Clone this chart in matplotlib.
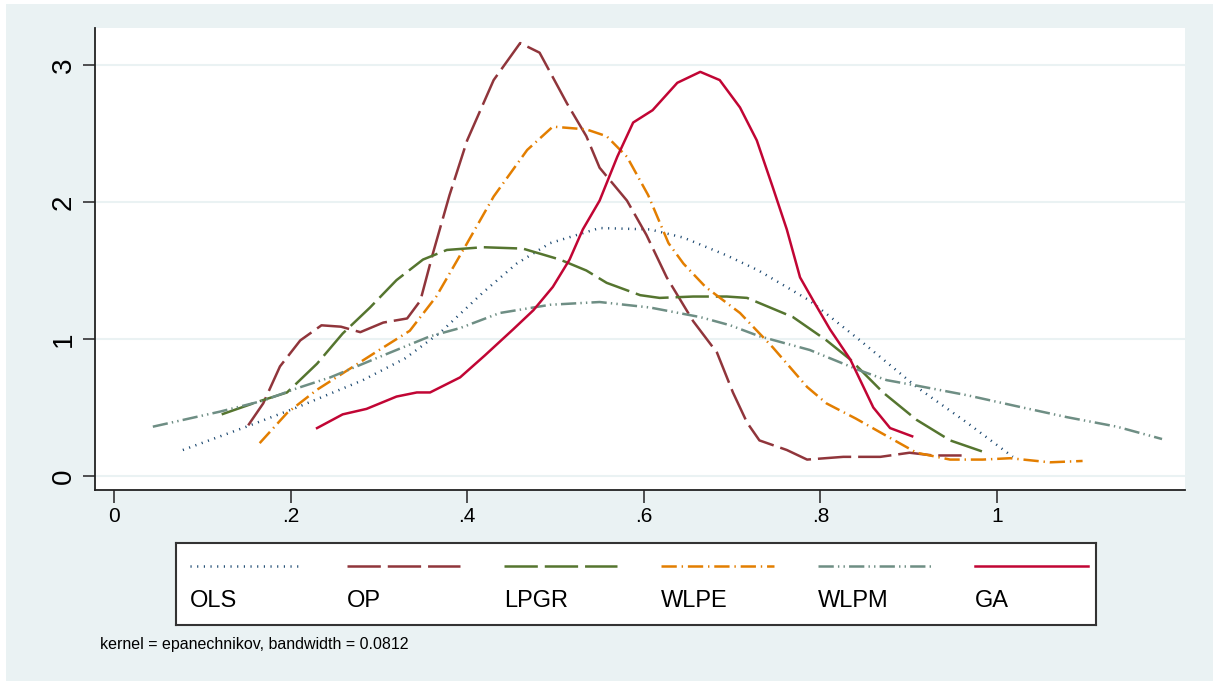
import matplotlib.pyplot as plt
from matplotlib.lines import Line2D
from matplotlib.patches import Rectangle

plt.rcParams['font.family'] = ['Liberation Sans', 'DejaVu Sans']
plt.rcParams['lines.scale_dashes'] = False

# --------------- data -----------------------------------------
ols_x = [0.078, 0.15, 0.207, 0.282, 0.33, 0.37, 0.418, 0.456, 0.494, 0.55, 0.607,
         0.645, 0.694, 0.73, 0.788, 0.845, 0.909, 0.966, 1.018]
ols_y = [0.19, 0.36, 0.50, 0.70, 0.86, 1.05, 1.34, 1.55, 1.70, 1.81, 1.80,
         1.74, 1.61, 1.50, 1.28, 0.99, 0.65, 0.39, 0.14]

op_x = [0.152, 0.169, 0.188, 0.211, 0.235, 0.257, 0.279, 0.305, 0.332, 0.347, 0.361,
        0.38, 0.40, 0.43, 0.46, 0.482, 0.513, 0.535, 0.55, 0.581, 0.603, 0.626,
        0.656, 0.683, 0.701, 0.717, 0.731, 0.762, 0.785, 0.826, 0.868, 0.901,
        0.928, 0.96]
op_y = [0.37, 0.53, 0.80, 0.99, 1.10, 1.09, 1.05, 1.12, 1.15, 1.28, 1.62,
        2.05, 2.45, 2.89, 3.16, 3.09, 2.72, 2.48, 2.25, 2.01, 1.76, 1.45,
        1.13, 0.90, 0.61, 0.39, 0.26, 0.19, 0.12, 0.14, 0.14, 0.17,
        0.15, 0.15]

lpgr_x = [0.122, 0.162, 0.196, 0.23, 0.259, 0.29, 0.32, 0.35, 0.377, 0.418, 0.463,
          0.505, 0.535, 0.558, 0.596, 0.618, 0.656, 0.694, 0.717, 0.769, 0.807,
          0.834, 0.871, 0.909, 0.947, 0.983]
lpgr_y = [0.45, 0.54, 0.61, 0.82, 1.04, 1.23, 1.43, 1.58, 1.65, 1.67, 1.66,
          1.58, 1.50, 1.41, 1.32, 1.30, 1.31, 1.31, 1.30, 1.16, 0.99,
          0.85, 0.61, 0.41, 0.26, 0.18]

wlpe_x = [0.165, 0.196, 0.23, 0.264, 0.298, 0.335, 0.365, 0.40, 0.43, 0.468, 0.497,
          0.535, 0.558, 0.581, 0.605, 0.628, 0.645, 0.67, 0.709, 0.746, 0.785,
          0.807, 0.84, 0.873, 0.909, 0.947, 0.984, 1.015, 1.06, 1.097]
wlpe_y = [0.24, 0.46, 0.63, 0.77, 0.91, 1.06, 1.31, 1.70, 2.04, 2.38, 2.55,
          2.53, 2.48, 2.33, 2.05, 1.70, 1.55, 1.38, 1.19, 0.94, 0.65,
          0.53, 0.42, 0.30, 0.17, 0.12, 0.12, 0.13, 0.10, 0.11]

wlpm_x = [0.044, 0.12, 0.169, 0.207, 0.245, 0.301, 0.358, 0.392, 0.437, 0.494, 0.55,
          0.607, 0.664, 0.698, 0.731, 0.788, 0.845, 0.875, 0.909, 0.966, 1.022,
          1.079, 1.136, 1.187]
wlpm_y = [0.36, 0.47, 0.55, 0.64, 0.72, 0.87, 1.02, 1.08, 1.19, 1.25, 1.27,
          1.23, 1.16, 1.10, 1.02, 0.92, 0.77, 0.70, 0.66, 0.59, 0.51,
          0.43, 0.36, 0.27]

ga_x = [0.23, 0.259, 0.286, 0.32, 0.343, 0.358, 0.392, 0.42, 0.452, 0.475, 0.497,
        0.516, 0.531, 0.55, 0.57, 0.588, 0.61, 0.638, 0.664, 0.686, 0.709,
        0.728, 0.746, 0.762, 0.777, 0.792, 0.811, 0.834, 0.86, 0.879, 0.904]
ga_y = [0.35, 0.45, 0.49, 0.58, 0.61, 0.61, 0.72, 0.88, 1.07, 1.21, 1.38,
        1.58, 1.80, 2.01, 2.33, 2.58, 2.67, 2.87, 2.95, 2.89, 2.69,
        2.45, 2.11, 1.80, 1.45, 1.28, 1.07, 0.85, 0.50, 0.35, 0.29]

names = ['OLS', 'OP', 'LPGR', 'WLPE', 'WLPM', 'GA']
xs = [ols_x, op_x, lpgr_x, wlpe_x, wlpm_x, ga_x]
ys = [ols_y, op_y, lpgr_y, wlpe_y, wlpm_y, ga_y]

colors = ['#1a476f', '#90353b', '#55752f', '#e37e00', '#6e8e84', '#c10534']
dashes = [(0.8, 4.0), (24, 5), (24, 5), (11, 3.5, 1, 3.5),
          (11, 3, 1, 3, 1, 3), None]

bg = '#eaf2f3'

fig = plt.figure(figsize=(12.13, 6.81), dpi=100)
fig.patch.set_facecolor('white')
# light frame background (small white strip top/left as in the export)
fig.add_artist(Rectangle((6 / 1213, 0), 1, 1 - 4 / 681, transform=fig.transFigure,
                         facecolor=bg, edgecolor='none', zorder=-10))

ax = fig.add_axes([95 / 1213, 1 - 490 / 681, 1090 / 1213, 462 / 681])
ax.set_facecolor('white')

for x, y, c, d, n in zip(xs, ys, colors, dashes, names):
    ln, = ax.plot(x, y, color=c, lw=1.8, label=n)
    if d is not None:
        ln.set_dashes(d)

ax.set_xlim(-0.0215, 1.213)
ax.set_ylim(-0.102, 3.27)
ax.set_xticks([0, 0.2, 0.4, 0.6, 0.8, 1], ['0', '.2', '.4', '.6', '.8', '1'])
ax.set_yticks([0, 1, 2, 3], ['0', '1', '2', '3'])
ax.tick_params(axis='both', length=9, width=1.2, color='#333333')
ax.tick_params(axis='x', pad=3, labelsize=15)
ax.tick_params(axis='y', pad=4, labelsize=20, labelrotation=90)
for t in ax.get_yticklabels():
    t.set_verticalalignment('center')
ax.yaxis.grid(True, color=bg, lw=1.5)
ax.set_axisbelow(True)
for s in ['top', 'right']:
    ax.spines[s].set_visible(False)
for s in ['left', 'bottom']:
    ax.spines[s].set_linewidth(1.3)
    ax.spines[s].set_color('#222222')

# legend box: line sample above each label, six columns
lax = fig.add_axes([176 / 1213, 1 - 625 / 681, 920 / 1213, 82 / 681])
lax.set_xlim(0, 920)
lax.set_ylim(82, 0)
lax.set_xticks([])
lax.set_yticks([])
lax.set_facecolor('white')
for s in lax.spines.values():
    s.set_linewidth(1.5)
    s.set_color('#333333')
for i, (c, d, n) in enumerate(zip(colors, dashes, names)):
    x0 = 14 + 157 * i
    h = Line2D([x0, x0 + 113], [23, 23], color=c, lw=1.8)
    if d is not None:
        h.set_dashes(d)
    lax.add_line(h)
    lax.text(x0, 58, n, fontsize=17, va='center', ha='left')

fig.text(100 / 1213, 1 - 645 / 681, 'kernel = epanechnikov, bandwidth = 0.0812',
         fontsize=11.5, va='center', ha='left')

plt.savefig('out.png', dpi=100, facecolor=fig.get_facecolor())
